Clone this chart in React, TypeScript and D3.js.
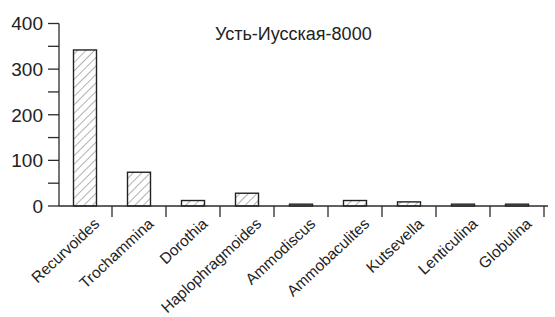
import React from "react";
import * as d3 from "d3";

const categories = [
  "Recurvoides",
  "Trochammina",
  "Dorothia",
  "Haplophragmoides",
  "Ammodiscus",
  "Ammobaculites",
  "Kutsevella",
  "Lenticulina",
  "Globulina",
];
const counts = [342, 74, 12, 28, 4, 12, 9, 4, 4];
const majorTicks = [0, 100, 200, 300, 400];
const minorTicks = [50, 150, 250, 350];
const title = "Усть-Иусская-8000";

const width = 555;
const height = 317;
const left = 59;
const right = 544;
const top = 23.5;
const bottom = 206;
const ink = "#2b2b2b";
const font = "'Liberation Sans', Arial, sans-serif";

export default function App() {
  const x = d3.scaleBand<string>().domain(categories).range([left - 1, right]);
  const y = d3.scaleLinear().domain([0, 400]).range([bottom, top]);
  const barW = 23;

  return (
    <svg
      width={width}
      height={height}
      style={{ position: "absolute", left: 0, top: 0, background: "#fff" }}
      fontFamily={font}
    >
      <defs>
        <pattern
          id="hatch"
          patternUnits="userSpaceOnUse"
          width={6}
          height={6}
          patternTransform="rotate(45)"
        >
          <rect width={6} height={6} fill="#fff" />
          <line x1={0} y1={0} x2={0} y2={6} stroke="#666" strokeWidth={1} />
        </pattern>
      </defs>

      {/* bars */}
      {categories.map((c, i) => {
        const cx = (x(c) as number) + x.bandwidth() / 2;
        const y0 = y(counts[i]);
        return (
          <rect
            key={c}
            x={cx - barW / 2}
            y={y0}
            width={barW}
            height={bottom - y0}
            fill="url(#hatch)"
            stroke="#222"
            strokeWidth={1.4}
          />
        );
      })}

      {/* y axis */}
      <line x1={left} x2={left} y1={y(400)} y2={bottom} stroke={ink} strokeWidth={1.3} />
      {majorTicks.concat(minorTicks).map((t) => (
        <line key={t} x1={left - 11} x2={left} y1={y(t)} y2={y(t)} stroke={ink} strokeWidth={1.3} />
      ))}
      {majorTicks.map((t) => (
        <text
          key={t}
          x={43}
          y={y(t)}
          dy="0.36em"
          textAnchor="end"
          fontSize={19}
          fill="#222"
        >
          {t}
        </text>
      ))}

      {/* x axis */}
      <line x1={left} x2={548} y1={bottom} y2={bottom} stroke={ink} strokeWidth={1.3} />
      {categories.map((c) => {
        const bx = (x(c) as number) + x.bandwidth();
        return (
          <line key={c} x1={bx} x2={bx} y1={bottom} y2={bottom + 11} stroke={ink} strokeWidth={1.3} />
        );
      })}
      {categories.map((c) => {
        const cx = (x(c) as number) + x.bandwidth() / 2 + 15.5;
        const ty = bottom + 19;
        return (
          <text
            key={c}
            transform={`translate(${cx},${ty}) rotate(-43)`}
            textAnchor="end"
            fontSize={15.5}
            fill="#222"
          >
            {c}
          </text>
        );
      })}

      <text x={215} y={40} fontSize={18} fill="#222">
        {title}
      </text>
    </svg>
  );
}
